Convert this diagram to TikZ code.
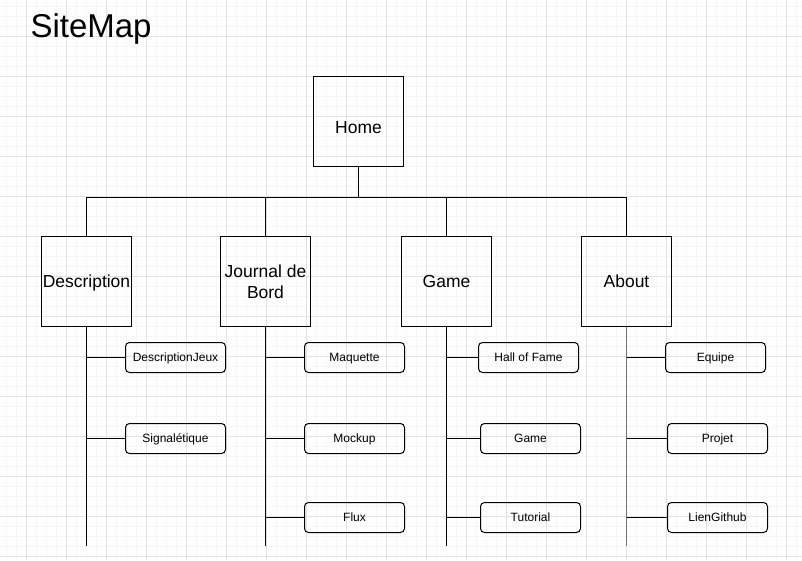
\documentclass[tikz,border=0pt]{standalone}
\usepackage{fontspec}
\setmainfont{Liberation Sans}
\usepackage{tikz}
\definecolor{grid-minor}{RGB}{246,246,246}
\definecolor{grid-major}{RGB}{227,227,227}

\begin{document}
\begin{tikzpicture}[x=0.75pt, y=-0.75pt, line width=0.75pt]
    \tikzset{ page/.style ={draw=black, minimum width=67.5pt, minimum height=67.5pt, inner sep=1pt, align=center, font=\fontsize{13.1}{15.75}\selectfont} }
    \tikzset{ sub/.style  ={draw=black, rounded corners=3pt, minimum width=75pt, minimum height=22.5pt, inner sep=1pt, text height=6.5pt, text depth=0pt, font=\fontsize{9}{10.8}\selectfont} }
    \tikzset{ link/.style ={draw=black} }

    \useasboundingbox (0,0) rectangle (802,560);
    \fill[white] (0,0) rectangle (802,560);
    \foreach \g in {6.5,16.5,...,796.5} \draw[grid-minor] (\g,0) -- (\g,560);
    \foreach \g in {6.5,16.5,...,556.5} \draw[grid-minor] (0,\g) -- (802,\g);
    \foreach \g in {26.5,66.5,...,786.5} \draw[grid-major] (\g,0) -- (\g,560);
    \foreach \g in {36.5,76.5,...,556.5} \draw[grid-major] (0,\g) -- (802,\g);

    \node[anchor=base west, inner sep=0pt, font=\fontsize{24.75}{29}\selectfont] (title) at (30, 38) {SiteMap};

    \node[page, text height=18.5pt, text depth=0pt] (home) at (358.5, 121.5) {Home};
    \node[page, text height=9.4pt, text depth=0pt] (desc) at ( 86.5, 281.5) {Description};
    \node[page] (jrnl) at (265.5, 281.5) {Journal de\\Bord};
    \node[page] (game) at (446.5, 281.5) {Game};
    \node[page] (abt)  at (626.5, 281.5) {About};

    \node[sub] (desc_jeux) at (175.5, 357.5) {DescriptionJeux};
    \node[sub] (desc_sign) at (175.5, 438.5) {Signalétique};
    \node[sub] (jrnl_maq)  at (354.5, 357.5) {Maquette};
    \node[sub] (jrnl_mock) at (354.5, 438.5) {Mockup};
    \node[sub] (jrnl_flux) at (354.5, 517.5) {Flux};
    \node[sub] (game_hof)  at (528.5, 357.5) {Hall of Fame};
    \node[sub] (game_game) at (530.5, 438.5) {Game};
    \node[sub] (game_tuto) at (530.5, 517.5) {Tutorial};
    \node[sub] (abt_equ)   at (715.5, 357.5) {Equipe};
    \node[sub] (abt_proj)  at (717.5, 438.5) {Projet};
    \node[sub] (abt_git)   at (717.5, 517.5) {LienGithub};

    \coordinate (desc_end) at ( 86.5, 546);
    \coordinate (jrnl_end) at (265.5, 546);
    \coordinate (game_end) at (446.5, 546);
    \coordinate (abt_end)  at (626.5, 546);

    \draw[link] (home.south) -- ++(0,30) -| (desc.north);
    \draw[link] (home.south) -- ++(0,30) -| (jrnl.north);
    \draw[link] (home.south) -- ++(0,30) -| (game.north);
    \draw[link] (home.south) -- ++(0,30) -| (abt.north);

    \draw[link] (desc.south) -- (desc_end);
    \draw[link] (jrnl.south) -- (jrnl_end);
    \draw[link] (game.south) -- (game_end);
    \draw[link, draw=black!55, line width=1.1pt] (abt.south) -- (abt_end);

    \draw[link] (desc.south |- desc_jeux.west) -- (desc_jeux.west);
    \draw[link] (desc.south |- desc_sign.west) -- (desc_sign.west);
    \draw[link] (jrnl.south |- jrnl_maq.west)  -- (jrnl_maq.west);
    \draw[link] (jrnl.south |- jrnl_mock.west) -- (jrnl_mock.west);
    \draw[link] (jrnl.south |- jrnl_flux.west) -- (jrnl_flux.west);
    \draw[link] (game.south |- game_hof.west)  -- (game_hof.west);
    \draw[link] (game.south |- game_game.west) -- (game_game.west);
    \draw[link] (game.south |- game_tuto.west) -- (game_tuto.west);
    \draw[link] (abt.south |- abt_equ.west)    -- (abt_equ.west);
    \draw[link] (abt.south |- abt_proj.west)   -- (abt_proj.west);
    \draw[link] (abt.south |- abt_git.west)    -- (abt_git.west);

\end{tikzpicture}
\end{document}
